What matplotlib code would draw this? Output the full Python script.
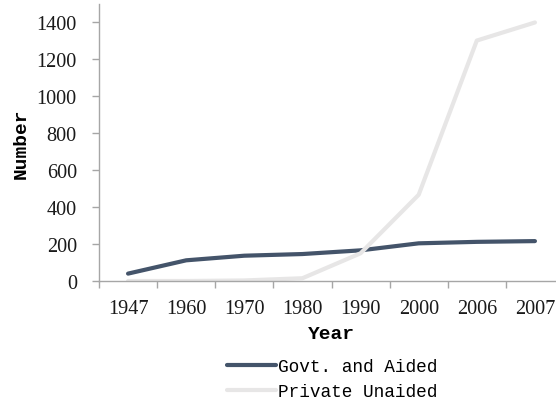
import matplotlib
matplotlib.use('Agg')
import matplotlib.pyplot as plt
from matplotlib.ticker import FixedLocator, NullFormatter

years = ['1947', '1960', '1970', '1980', '1990', '2000', '2006', '2007']
govt_aided = [40, 112, 137, 146, 166, 204, 212, 216]
private_unaided = [0, 0, 3, 15, 150, 467, 1302, 1400]
y_ticks = [0, 200, 400, 600, 800, 1000, 1200, 1400]

AXIS_GRAY = '#a6a6a6'


def main_plot():
    fig = plt.figure(figsize=(5.56, 4.06), dpi=100)
    ax = fig.add_axes([99 / 556, 1 - 282 / 406, 465 / 556, 277 / 406])

    x = list(range(len(years)))
    line_g, = ax.plot(x, govt_aided, color='#44546a', lw=3, solid_capstyle='round')
    line_p, = ax.plot(x, private_unaided, color='#e7e6e6', lw=3, solid_capstyle='round')

    ax.set_xlim(-0.5, len(years) - 0.5)
    ax.set_ylim(0, 1500)

    # category ticks sit between the labels
    ax.xaxis.set_major_locator(FixedLocator([i - 0.5 for i in range(len(years) + 1)]))
    ax.xaxis.set_major_formatter(NullFormatter())
    ax.xaxis.set_minor_locator(FixedLocator(x))
    ax.set_xticklabels(years, minor=True)
    ax.tick_params(axis='x', which='major', length=5, width=1, color=AXIS_GRAY)
    ax.tick_params(axis='x', which='minor', length=0, pad=13)

    ax.set_yticks(y_ticks)
    ax.tick_params(axis='y', length=5, width=1, color=AXIS_GRAY, pad=11)

    for lab in ax.get_xticklabels(minor=True) + ax.get_yticklabels():
        lab.set_fontfamily('Liberation Serif')
        lab.set_fontsize(14.6)
        lab.set_color('#1a1a1a')

    for side in ['top', 'right']:
        ax.spines[side].set_visible(False)
    for side in ['left', 'bottom']:
        ax.spines[side].set_color(AXIS_GRAY)
        ax.spines[side].set_linewidth(1)

    ax.set_xlabel('Year', fontfamily='Liberation Mono', fontweight='bold',
                  fontsize=14, labelpad=5)
    ax.set_ylabel('Number', fontfamily='Liberation Mono', fontweight='bold',
                  fontsize=14, labelpad=5)

    fig.legend([line_g, line_p], ['Govt. and Aided', 'Private Unaided'],
               loc='center', bbox_to_anchor=(332 / 556, 1 - 380 / 406),
               frameon=False, handlelength=2.75, handletextpad=0.1,
               labelspacing=0.45,
               prop={'family': 'Liberation Mono', 'size': 12.8})

    fig.savefig('out.png', dpi=100)


if __name__ == '__main__':
    main_plot()
